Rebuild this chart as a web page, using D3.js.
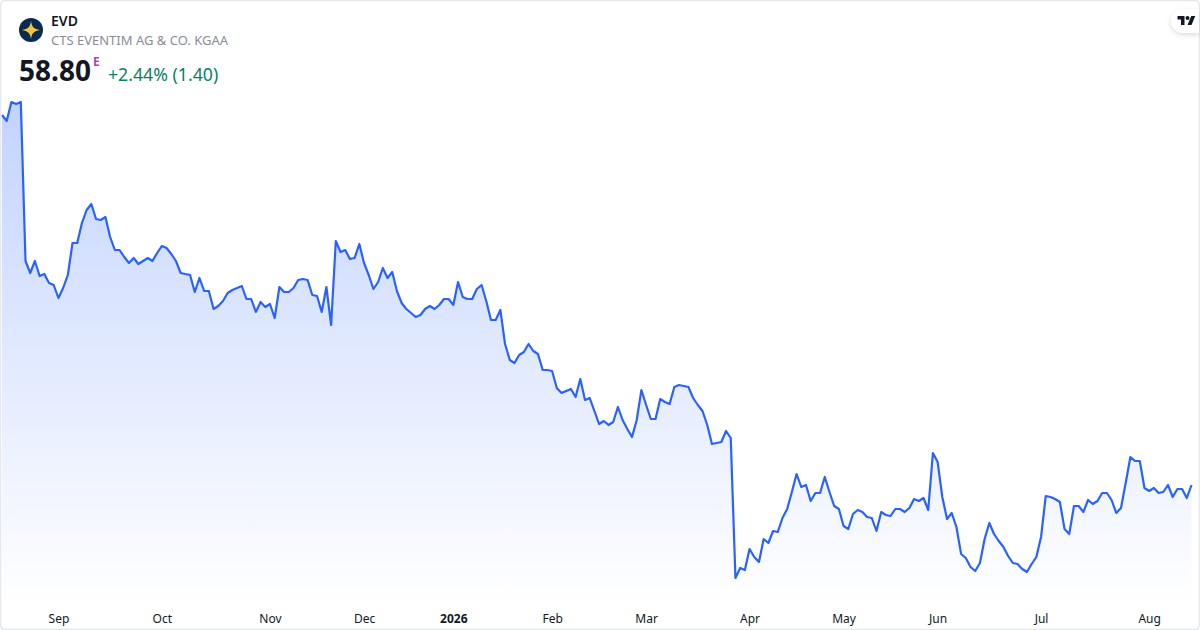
<!DOCTYPE html>
<html>
<head>
<meta charset="utf-8">
<script src="https://cdn.jsdelivr.net/npm/d3@7"></script>
<style>
  html, body { margin: 0; padding: 0; background: #fff; }
  svg { display: block; font-family: "Noto Sans", sans-serif; }
</style>
</head>
<body>
<div id="chart"></div>
<script>
// closing prices, one per trading day
const prices = [
  95.8,95.2,97.1,96.9,97.1,
  81.2,80.0,81.2,79.7,79.9,79.0,78.8,77.5,78.5,79.8,83.0,83.0,85.0,86.3,86.9,85.4,85.3,85.6,83.6,82.3,82.3,81.6,81.0,81.5,80.9,81.2,81.5,81.2,82.0,82.7,82.5,81.9,81.2,80.0,79.9,79.8,78.1,79.5,78.2,78.2,76.4,76.7,77.2,78.0,78.3,78.5,78.7,77.4,77.4,76.1,77.1,76.6,76.9,75.5,78.6,78.1,78.1,78.5,79.3,79.4,
  79.3,77.8,77.7,76.1,78.6,74.8,83.2,82.1,82.3,81.4,81.5,82.9,81.0,79.8,78.4,79.1,80.5,79.5,80.1,78.2,77.0,76.4,76.0,75.6,75.8,76.4,76.7,76.4,76.8,77.4,77.4,76.8,79.1,77.6,77.4,77.4,78.4,78.8,77.2,75.3,75.3,76.3,72.9,71.3,71.0,71.8,72.1,72.9,72.2,71.9,70.3,70.3,70.2,68.5,68.0,68.2,68.4,67.6,
  69.4,67.3,67.5,66.2,64.9,65.2,64.8,65.1,66.6,65.3,64.4,63.6,65.3,68.3,66.8,65.4,65.4,67.4,67.1,66.9,68.6,68.8,68.7,68.6,67.5,66.8,66.2,64.8,62.9,63.0,63.1,64.2,63.5,49.5,50.5,50.3,52.4,51.6,51.1,53.4,53.0,54.2,54.1,55.5,56.4,58.1,59.9,58.6,58.8,57.2,58.0,58.0,59.6,58.1,56.7,56.4,54.7,54.4,55.9,56.3,56.1,55.6,55.5,54.2,
  56.1,55.8,55.7,56.4,56.4,56.1,56.5,57.4,57.2,57.5,56.3,62.0,61.1,57.6,55.4,56.0,54.6,51.9,51.5,50.6,50.2,51.0,53.4,55.0,53.9,53.2,52.6,51.7,51.0,50.9,50.4,50.1,50.9,51.6,53.6,57.7,57.6,57.4,57.1,54.4,53.9,56.7,56.7,56.1,57.3,56.9,57.2,58.0,58.0,57.3,56.0,56.5,59.0,61.6,61.2,61.2,58.5,58.2,58.5,58.0,58.1,58.8,57.6,58.4,58.4,57.5,58.8
];

// axis labels and the trading day each one sits on
const tickLabels = ["Sep","Oct","Nov","Dec","2026","Feb","Mar","Apr","May","Jun","Jul","Aug"];
const tickDays = [12,34,57,77,96,117,137,159,179,199,221,244];

const width = 1200, height = 630;
const svg = d3.select("#chart").append("svg")
  .attr("width", width)
  .attr("height", height);

const x = d3.scaleLinear().domain([0, prices.length - 1]).range([2, 1191.5]);
const y = d3.scaleLinear().domain([44.3, 107.3]).range([630, 0]);
const plotBottom = 605;

const defs = svg.append("defs");
const grad = defs.append("linearGradient")
  .attr("id", "areaFill")
  .attr("gradientUnits", "userSpaceOnUse")
  .attr("x1", 0).attr("x2", 0)
  .attr("y1", y(d3.max(prices))).attr("y2", plotBottom);
grad.append("stop").attr("offset", 0).attr("stop-color", "#2962ff").attr("stop-opacity", 0.28);
grad.append("stop").attr("offset", 1).attr("stop-color", "#2962ff").attr("stop-opacity", 0);

const fShadow = defs.append("filter").attr("id", "pillShadow")
  .attr("x", "-30%").attr("y", "-30%").attr("width", "160%").attr("height", "180%");
fShadow.append("feDropShadow").attr("dx", 0).attr("dy", 2).attr("stdDeviation", 2.5)
  .attr("flood-color", "#000").attr("flood-opacity", 0.14);

const area = d3.area()
  .x((d, i) => x(i))
  .y0(plotBottom)
  .y1(d => y(d));

const line = d3.line()
  .x((d, i) => x(i))
  .y(d => y(d));

svg.append("path").datum(prices)
  .attr("d", area)
  .attr("fill", "url(#areaFill)");

svg.append("path").datum(prices)
  .attr("d", line)
  .attr("fill", "none")
  .attr("stroke", "#2962ff")
  .attr("stroke-width", 2.2)
  .attr("stroke-linejoin", "round");

// month axis
const axis = d3.axisBottom(x)
  .tickValues(tickDays)
  .tickSize(0)
  .tickPadding(0)
  .tickFormat((d, i) => tickLabels[i]);

const axisG = svg.append("g")
  .attr("transform", "translate(0,612)")
  .call(axis);
axisG.select(".domain").remove();
axisG.selectAll("text")
  .attr("dy", "0.9em")
  .style("font-family", '"Noto Sans", sans-serif')
  .style("font-size", "12px")
  .attr("fill", "#131722")
  .style("font-weight", (d, i) => tickLabels[i] === "2026" ? "700" : "400");

// header
const logo = svg.append("g").attr("transform", "translate(31,30)");
logo.append("circle").attr("r", 12).attr("fill", "#0b2a4f");
logo.append("path")
  .attr("d", "M0,-9 C0.8,-3 3,-1 9,0 C3,1 0.8,3 0,9 C-0.8,3 -3,1 -9,0 C-3,-1 -0.8,-3 0,-9 Z")
  .attr("fill", "#f5c542");

svg.append("text").attr("x", 51).attr("y", 26)
  .attr("font-size", 14).attr("font-weight", 600).attr("fill", "#131722").text("EVD");
svg.append("text").attr("x", 51).attr("y", 45)
  .attr("font-size", 13).attr("fill", "#8a8d96").text("CTS EVENTIM AG & CO. KGAA");
svg.append("text").attr("x", 19).attr("y", 80.5)
  .attr("font-size", 28).attr("font-weight", 700).attr("textLength", 72).attr("fill", "#131722").text("58.80");
svg.append("text").attr("x", 93).attr("y", 66)
  .attr("font-size", 12).attr("font-weight", 700).attr("fill", "#ab47bc").text("E");
svg.append("text").attr("x", 108).attr("y", 81)
  .attr("font-size", 17.7).attr("fill", "#0b8065").text("+2.44% (1.40)");

// frame
svg.append("rect")
  .attr("x", 0.5).attr("y", 0.5)
  .attr("width", width - 1).attr("height", height - 1)
  .attr("rx", 5)
  .attr("fill", "none")
  .attr("stroke", "#e6e8ee")
  .attr("stroke-width", 1.5);

// tradingview badge
const badge = svg.append("g");
badge.append("path")
  .attr("d", "M1199,9 L1183,9 A12,12 0 0 0 1183,33 L1199,33 Z")
  .attr("fill", "#fff")
  .attr("filter", "url(#pillShadow)");
const mark = badge.append("g")
  .attr("transform", "translate(1177.5,14) scale(0.5)")
  .attr("fill", "#131722");
mark.append("path").attr("d", "M14 22H7V11H0V4h14v18zM28 22h-8l7.5-18h8L28 22z");
mark.append("circle").attr("cx", 20).attr("cy", 8).attr("r", 4);
</script>
</body>
</html>
